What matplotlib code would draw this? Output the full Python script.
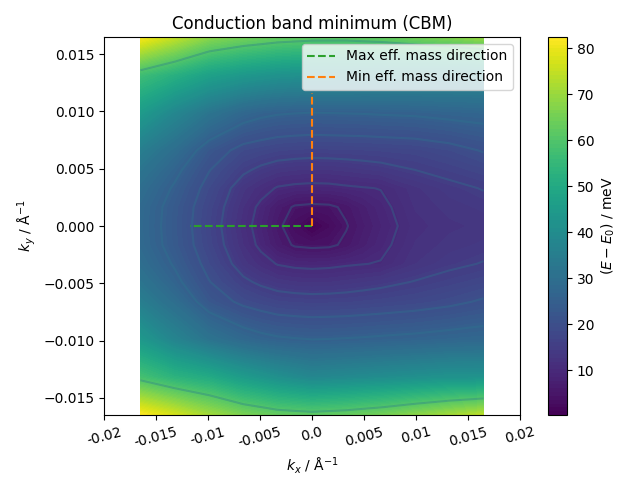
import matplotlib
matplotlib.use("Agg")
import matplotlib.pyplot as plt
import numpy as np

# k grid (1/Angstrom), denser near the minimum
kx = [-0.0165, -0.0132, -0.0099, -0.0066, -0.0049, -0.0033, -0.00165, 0.0,
      0.00165, 0.0033, 0.0049, 0.0066, 0.0099, 0.0132, 0.0165]
ky = [-0.0165, -0.0132, -0.0099, -0.0066, -0.0049, -0.0033, -0.00165, 0.0,
      0.00165, 0.0033, 0.0049, 0.0066, 0.0099, 0.0132, 0.0165]

# E - E0 in meV, one row per ky (bottom to top)
energy = [
    [82.5, 77, 71, 66, 64.5, 63, 62.5, 62, 62.5, 63, 64, 65, 68, 71, 74],
    [58, 53, 50, 45, 43, 41, 39.5, 38, 38.5, 39, 39.5, 40, 41, 42, 42],
    [44, 37, 31.5, 27.8, 26.5, 25.7, 25.3, 25, 25.1, 25.3, 25.5, 25.8, 26.3, 27, 27.5],
    [35, 29.5, 22.5, 19, 17.9, 17, 16.7, 16.5, 16.6, 16.7, 17, 17.3, 18, 19, 20.5],
    [32, 26.3, 20.2, 15.8, 14.3, 13.3, 12.8, 12.6, 12.7, 13.1, 13.5, 14.0, 15.2, 16.4, 17.6],
    [29.6, 24.5, 18.6, 13.2, 11.4, 9.8, 9.2, 9, 9.2, 9.6, 9.9, 10.2, 12.7, 14.2, 15.2],
    [28.2, 23.2, 17.4, 11.9, 9.2, 6.6, 4.6, 4.2, 4.4, 5.6, 7.4, 9.1, 12.0, 13.1, 13.8],
    [28, 23, 17, 11.3, 8.5, 5.7, 3.0, 0.3, 2.6, 4.8, 6.7, 8.5, 11.5, 12.5, 13],
    [28.2, 23.2, 17.4, 11.9, 9.2, 6.6, 4.6, 4.2, 4.4, 5.6, 7.4, 9.1, 12.0, 13.1, 13.8],
    [29.6, 24.4, 18.5, 13, 11.3, 9.7, 9.2, 9, 9.1, 9.5, 9.8, 10.1, 12.5, 14, 15.2],
    [32, 26.3, 20.2, 15.7, 14.2, 13.2, 12.8, 12.6, 12.7, 13.0, 13.4, 13.8, 15.0, 16.2, 17.5],
    [35, 29.5, 22.5, 18.5, 17.7, 17, 16.7, 16.5, 16.6, 16.7, 16.8, 17, 17.4, 18.5, 20.3],
    [45, 38, 32, 27.5, 26.2, 25.5, 25.2, 25, 25.1, 25.2, 25.3, 25.5, 25.8, 26.5, 27],
    [57, 52, 47, 44, 43, 42, 41.5, 41, 40.7, 40.5, 40.2, 40, 39.5, 39, 39],
    [82, 75, 68, 65, 64, 63, 62.5, 62, 62, 62, 62.5, 63, 65, 67, 70],
]

line_levels = [5, 10, 15, 20, 25, 60]

# effective mass directions (end points from the minimum)
max_dir = [-0.0117, 0.0]
min_dir = [0.0, 0.0116]

xtick_vals = [-0.02, -0.015, -0.01, -0.005, 0.0, 0.005, 0.01, 0.015, 0.02]
xtick_labels = ["-0.02", "-0.015", "-0.01", "-0.005", "0.0", "0.005", "0.01", "0.015", "0.02"]

KX, KY = np.meshgrid(kx, ky)
Z = np.array(energy)

fig = plt.figure(figsize=(6.4, 4.8), dpi=100)
ax = fig.add_axes([104 / 640, 65 / 480, 416 / 640, 378 / 480])
cax = fig.add_axes([548 / 640, 65 / 480, 19 / 640, 378 / 480])

fill_levels = np.linspace(Z.min(), Z.max(), 100)
cf = ax.contourf(KX, KY, Z, levels=fill_levels, cmap="viridis")
ax.contour(KX, KY, Z, levels=line_levels, colors=[plt.cm.viridis(0.4)], alpha=0.35, linewidths=1.5)

ax.plot([0, max_dir[0]], [0, max_dir[1]], "--", color="C2", label="Max eff. mass direction")
ax.plot([0, min_dir[0]], [0, min_dir[1]], "--", color="C1", label="Min eff. mass direction")

cb = fig.colorbar(cf, cax=cax)
cb.set_ticks([10, 20, 30, 40, 50, 60, 70, 80])
cb.set_label("$(E - E_0)$ / meV")

ax.set_xlim(-0.02, 0.02)
ax.set_ylim(-0.0165, 0.0165)
ax.set_xticks(xtick_vals)
ax.set_xticklabels(xtick_labels, rotation=15)
ax.set_xlabel("$k_x$ / Å$^{-1}$")
ax.set_ylabel("$k_y$ / Å$^{-1}$")
ax.set_title("Conduction band minimum (CBM)")
ax.legend(loc="upper right")

fig.savefig("out.png")
